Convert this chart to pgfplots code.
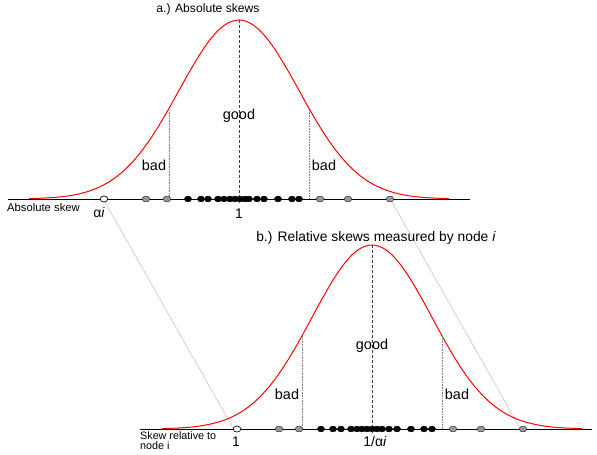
\documentclass[border=0pt]{standalone}
\usepackage{fontspec}
\setmainfont{Liberation Sans}
\usepackage{pgfplots}
\pgfplotsset{compat=1.18}
\begin{document}
\begin{tikzpicture}
\begin{axis}[
  width=597bp, height=455bp, scale only axis,
  xmin=0, xmax=597, ymin=0, ymax=455, y dir=reverse,
  axis lines=none, clip=false,
]
\addplot[draw=none] coordinates {(0,0) (597,455)};
% connecting lines
\addplot[gray!60, line width=0.4bp] coordinates {(105,202) (233,428)};
\addplot[gray!60, line width=0.4bp] coordinates {(392,202) (520,428)};
% baselines
\addplot[black, line width=0.9bp] coordinates {(8,199) (470,199)};
\addplot[black, line width=0.9bp] coordinates {(140,429) (592,429)};
% top curve
\addplot[red, line width=1bp, smooth] coordinates {
(29,198.6) (39,198.3) (49,197.8) (59,197.0) (69,195.8) (79,193.9) (89,191.1) (99,187.2)
(109,181.9) (119,174.8) (129,165.7) (139,154.4) (149,140.9) (159,125.4) (169,108.4)
(179,90.4) (189,72.5) (199,55.7) (209,41.0) (219,29.7) (229,22.5) (239,20)
(249,22.5) (259,29.7) (269,41.0) (279,55.7) (289,72.5) (299,90.4) (309,108.4)
(319,125.4) (329,140.9) (339,154.4) (349,165.7) (359,174.8) (369,181.9) (379,187.2)
(389,191.1) (399,193.9) (409,195.8) (419,197.0) (429,197.8) (439,198.3) (449,198.6)};
% bottom curve
\addplot[red, line width=1bp, smooth] coordinates {
(162,428.6) (172,428.3) (182,427.8) (192,427.0) (202,425.7) (212,423.7) (222,420.9)
(232,416.9) (242,411.4) (252,404.1) (262,394.7) (272,383.1) (282,369.3) (292,353.4)
(302,335.8) (312,317.4) (322,299.0) (332,281.7) (342,266.6) (352,254.9) (362,247.5)
(372,245) (382,247.5) (392,254.9) (402,266.6) (412,281.7) (422,299.0) (432,317.4)
(442,335.8) (452,353.4) (462,369.3) (472,383.1) (482,394.7) (492,404.1) (502,411.4)
(512,416.9) (522,420.9) (532,423.7) (542,425.7) (552,427.0) (562,427.8) (572,428.3)
(582,428.6)};
% center dashed lines
\addplot[black!75, line width=0.8bp, dash pattern=on 3bp off 2bp] coordinates {(239,20) (239,203)};
\addplot[black!75, line width=0.8bp, dash pattern=on 3bp off 2bp] coordinates {(372,245) (372,433)};
% bad lines
\addplot[gray, line width=0.6bp, densely dotted] coordinates {(169,108.4) (169,199)};
\addplot[gray, line width=0.6bp, densely dotted] coordinates {(309,108.4) (309,199)};
\addplot[gray, line width=0.6bp, densely dotted] coordinates {(302,335.8) (302,429)};
\addplot[gray, line width=0.6bp, densely dotted] coordinates {(442,335.8) (442,429)};
% dots top
\addplot[only marks, mark=*, mark size=3.2bp, mark options={xscale=1.2, yscale=0.95, fill=white, draw=black, line width=0.6bp}] coordinates {(104,199)};
\addplot[only marks, mark=*, mark size=3.2bp, mark options={xscale=1.2, yscale=0.9, fill=gray!80, draw=black!80, line width=0.5bp}] coordinates {(146,199) (167,199) (320,199) (348,199) (390,199)};
\addplot[only marks, mark=*, mark size=3.1bp, mark options={xscale=1.15, yscale=0.95, fill=black, draw=black}] coordinates {
(188,199) (201,199) (208,199) (218,199) (224,199) (230,199) (235,199) (240,199)
(245,199) (249,199) (257,199) (264,199) (278,199) (292,199) (299,199)};
% dots bottom
\addplot[only marks, mark=*, mark size=3.2bp, mark options={xscale=1.2, yscale=0.95, fill=white, draw=black, line width=0.6bp}] coordinates {(237,429)};
\addplot[only marks, mark=*, mark size=3.2bp, mark options={xscale=1.2, yscale=0.9, fill=gray!80, draw=black!80, line width=0.5bp}] coordinates {(279,429) (299,429) (453,429) (481,429) (523,429)};
\addplot[only marks, mark=*, mark size=3.1bp, mark options={xscale=1.15, yscale=0.95, fill=black, draw=black}] coordinates {
(321,429) (333,429) (341,429) (351,429) (357,429) (362,429) (367,429) (372,429)
(377,429) (382,429) (389,429) (397,429) (411,429) (424,429) (432,429)};
% labels
\node[font=\fontsize{12.2}{14}\selectfont] at (axis cs:208,9) {a.) Absolute skews};
\node[font=\fontsize{13.9}{16}\selectfont] at (axis cs:376,238) {b.) Relative skews measured by node \textit{i}};
\node[font=\fontsize{14.5}{16}\selectfont] at (axis cs:239,116) {good};
\node[font=\fontsize{14.5}{16}\selectfont] at (axis cs:154,165) {bad};
\node[font=\fontsize{14.5}{16}\selectfont] at (axis cs:324,165) {bad};
\node[font=\fontsize{14.5}{16}\selectfont] at (axis cs:372,346) {good};
\node[font=\fontsize{14.5}{16}\selectfont] at (axis cs:287,394) {bad};
\node[font=\fontsize{14.5}{16}\selectfont] at (axis cs:457,394) {bad};
\node[font=\fontsize{11.3}{12}\selectfont, anchor=west, inner sep=0pt] at (axis cs:7,207) {Absolute skew};
\node[font=\fontsize{14}{16}\selectfont] at (axis cs:99,213) {α\textit{i}};
\node[font=\fontsize{14}{16}\selectfont] at (axis cs:239,214) {1};
\node[font=\fontsize{10.8}{10.6}\selectfont, anchor=north west, inner sep=0pt, align=left] at (axis cs:140,431) {Skew relative to\\node i};
\node[font=\fontsize{14}{16}\selectfont] at (axis cs:236,442) {1};
\node[font=\fontsize{14}{16}\selectfont] at (axis cs:375,442) {1/α\textit{i}};
\end{axis}
\end{tikzpicture}
\end{document}
